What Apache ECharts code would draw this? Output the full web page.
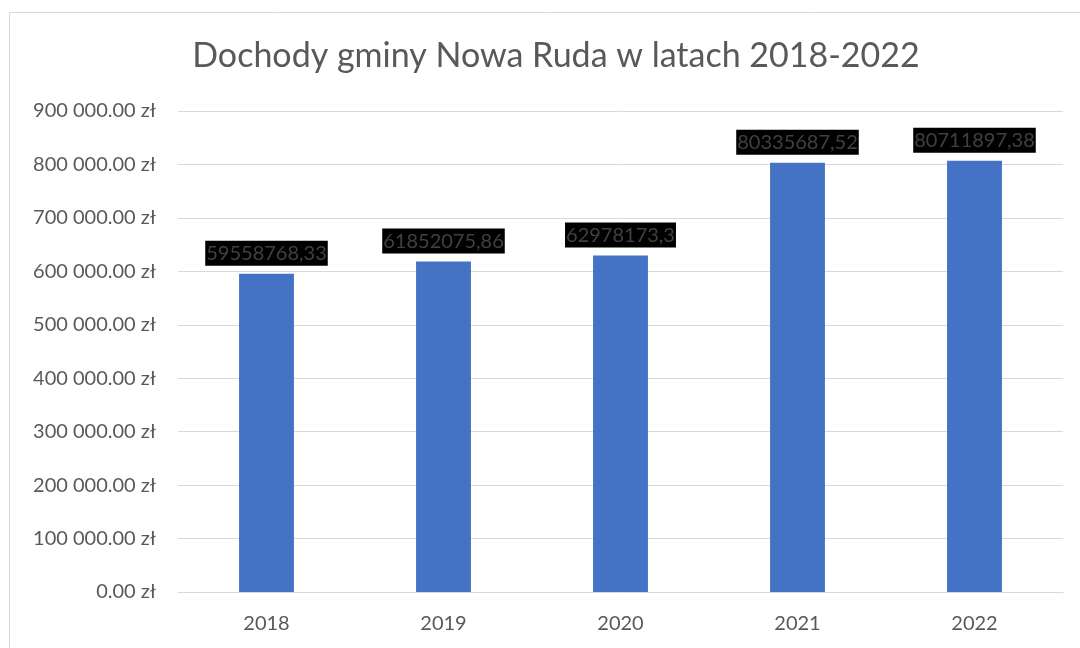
<!DOCTYPE html>
<html>
<head>
<meta charset="utf-8">
<title>Dochody gminy Nowa Ruda</title>
<script src="https://cdn.jsdelivr.net/npm/echarts@6/dist/echarts.min.js"></script>
<style>
  html, body { margin: 0; padding: 0; background: #fff; }
  #chart { width: 1080px; height: 648px; }
</style>
</head>
<body>
<div id="chart"></div>
<script>
// lata
var years = ['2018', '2019', '2020', '2021', '2022'];
// dochody jak w etykietach wykresu (zł)
var incomes = [59558768.33, 61852075.86, 62978173.3, 80335687.52, 80711897.38];
// słupki na wykresie są w skali 1/100 (tak jak oś w oryginale)
var barValues = incomes.map(function (v) { return v / 100; });

var font = 'Lato, "Open Sans", sans-serif';
var myChart = echarts.init(document.getElementById('chart'));

function plMoney(v) {
  var s = v.toFixed(2).split('.');
  return s[0].replace(/\B(?=(\d{3})+(?!\d))/g, ' ') + '.' + s[1] + ' zł';
}

myChart.setOption({
  animation: false,
  graphic: [{
    type: 'rect',
    shape: { x: 9.5, y: 12.5, width: 1100, height: 700 },
    style: { fill: 'none', stroke: '#d9d9d9', lineWidth: 1 }
  }],
  title: {
    text: 'Dochody gminy Nowa Ruda w latach 2018-2022',
    left: 551, top: 34, textAlign: 'center',
    textStyle: { fontFamily: font, fontSize: 34, fontWeight: 'normal', color: '#595959' }
  },
  grid: { left: 178, right: 17, top: 111, bottom: 56 },
  xAxis: {
    type: 'category',
    data: years,
    axisLine: { lineStyle: { color: '#d9d9d9', width: 1 } },
    axisTick: { show: false },
    axisLabel: { color: '#595959', fontFamily: font, fontSize: 20, margin: 22 }
  },
  yAxis: {
    type: 'value',
    min: 0, max: 900000, interval: 100000,
    axisLine: { show: false },
    axisTick: { show: false },
    splitLine: { lineStyle: { color: '#d9d9d9', width: 1 } },
    axisLabel: {
      color: '#595959', fontFamily: font, fontSize: 20, margin: 22,
      formatter: plMoney
    }
  },
  series: [{
    type: 'bar',
    data: barValues,
    barWidth: '31%',
    itemStyle: { color: '#4472c4' },
    label: {
      show: true,
      position: 'top',
      distance: 8,
      formatter: function (p) { return String(incomes[p.dataIndex]).replace('.', ','); },
      color: '#404040',
      backgroundColor: '#000',
      fontFamily: font,
      fontSize: 20,
      padding: [3, 1, 2, 1]
    }
  }]
});
</script>
</body>
</html>
